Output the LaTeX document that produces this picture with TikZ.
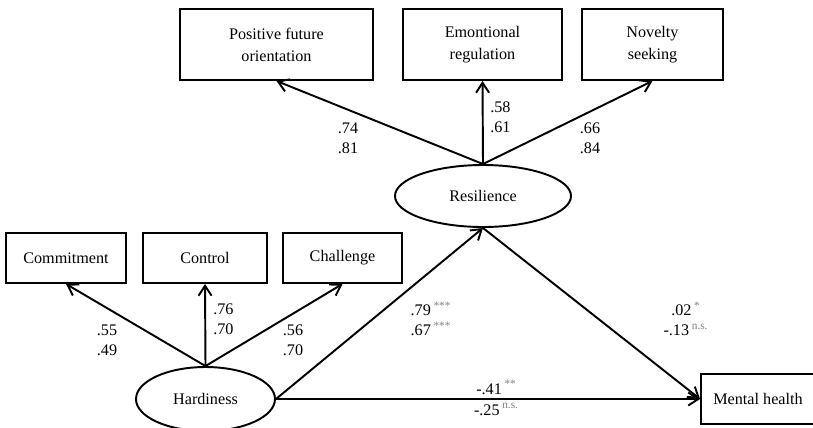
\documentclass[tikz,border=0pt]{standalone}
\usepackage{fontspec}
\setmainfont{Liberation Serif}
\usepackage{xcolor}
\definecolor{sgray}{HTML}{808080}
\usepackage{tikz}
\usetikzlibrary{arrows.meta,shapes.geometric}
\newcommand{\sig}[1]{\,\textsuperscript{\color{sgray}#1}}

\begin{document}
\begin{tikzpicture}[
        obs/.style={draw, line width=1.1pt, rectangle, inner sep=0pt, minimum height=1cm, align=center,
            font=\fontsize{9.2}{12.5}\selectfont},
        lat/.style={draw, line width=1.1pt, ellipse, inner sep=0pt, font=\fontsize{9.2}{12.5}\selectfont},
        path/.style={line width=1.1pt, -{Straight Barb[length=2mm,width=2.6mm]}},
        coef/.style={inner sep=0pt, align=center, font=\fontsize{9.2}{11.4}\selectfont}
    ]
    \useasboundingbox (0, 0) rectangle (16.26, -8.54);
    \node[obs, minimum width=3.86cm, minimum height=1.42cm] (pfo) at (5.53, -0.89) {Positive future\\orientation};
    \node[obs, minimum width=3.18cm, minimum height=1.42cm] (emo) at (9.65, -0.89) {Emontional\\regulation};
    \node[obs, minimum width=2.82cm, minimum height=1.42cm] (nov) at (13.05, -0.89) {Novelty\\seeking};
    \node[lat, minimum width=3.52cm, minimum height=1.24cm] (res) at (9.66, -3.92) {Resilience};
    \node[obs, minimum width=2.4cm] (com) at (1.32, -5.16) {Commitment};
    \node[obs, minimum width=2.48cm] (con) at (4.10, -5.16) {Control};
    \node[obs, minimum width=2.38cm] (cha) at (6.85, -5.16) {Challenge};
    \node[lat, minimum width=2.78cm, minimum height=1.28cm] (har) at (4.11, -7.98) {Hardiness};
    \node[obs, minimum width=2.28cm] (mh) at (15.16, -7.98) {Mental health};

    \draw[path] (res.north) -- (pfo.south);
    \draw[path] (res.north) -- (emo.south);
    \draw[path] (res.north) -- (nov.south);
    \draw[path] (har.north) -- (com.south);
    \draw[path] (har.north) -- (con.south);
    \draw[path] (har.north) -- (cha.south);
    \draw[path] (har.east) -- (res.south);
    \draw[path] (res.south) -- (mh.west);
    \draw[path] (har.east) -- (mh.west)
        node[pos=0.52, above=2pt, coef] (hm1) {-.41\sig{**}}
        node[pos=0.52, below=2pt, coef] (hm2) {-.25\sig{n.s.}};

    \node[coef] (l-pfo) at (6.96, -2.76) {.74\\.81};
    \node[coef, anchor=west] (l-emo) at (9.80, -2.34) {.58\\.61};
    \node[coef] (l-nov) at (11.8, -2.76) {.66\\.84};
    \node[coef] (l-com) at (2.14, -6.8) {.55\\.49};
    \node[coef, anchor=west] (l-con) at (4.26, -6.38) {.76\\.70};
    \node[coef] (l-cha) at (5.86, -6.8) {.56\\.70};
    \node[coef] (l-hr) at (8.62, -6.38) {.79\sig{***}\\.67\sig{***}};
    \node[coef] (l-rm) at (13.72, -6.38) {.02\sig{*}\hspace{1.1em}\\-.13\sig{n.s.}};
\end{tikzpicture}
\end{document}
